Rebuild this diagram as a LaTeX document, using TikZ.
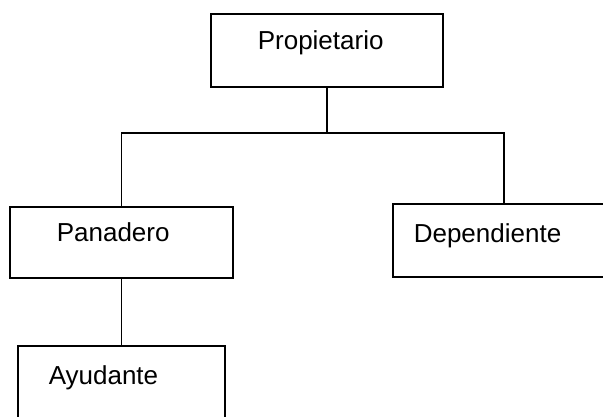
\documentclass[tikz,border=0pt]{standalone}
\usepackage{fontspec}
\setmainfont{Liberation Sans}
\usepackage{tikz}

\begin{document}
\begin{tikzpicture}[x=1pt, y=1pt, line width=1.6pt,
    box/.style={draw, rectangle, minimum width=#1, inner sep=0pt},
    lbl/.style={anchor=base west, inner sep=0pt, font=\fontsize{26}{31}\selectfont}]
    \useasboundingbox (0,0) rectangle (603,417);
    \clip (0,0) rectangle (603,417);

    % Boxes
    \node[box=232pt, minimum height=73pt] (prop) at (327, 366.5) {};
    \node[box=223pt, minimum height=71pt] (pan) at (121.5, 174.5) {};
    \node[box=222pt, minimum height=73pt] (dep) at (504, 176.5) {};
    \node[box=207pt, minimum height=72pt] (ayu) at (121.5, 35) {};

    % Labels
    \node[lbl] (propText) at (257, 367) {Propietario};
    \node[lbl] (panText) at (56, 175) {Panadero};
    \node[lbl] (depText) at (413, 174) {Dependiente};
    \node[lbl] (ayuText) at (48, 32) {Ayudante};

    % Connectors
    \coordinate (joint) at (prop.south |- 0, 284);
    \draw (prop.south) -- (joint);
    \draw (pan.north) |- (joint) -| (dep.north);
    \draw (pan.south) -- (ayu.north);
\end{tikzpicture}
\end{document}
